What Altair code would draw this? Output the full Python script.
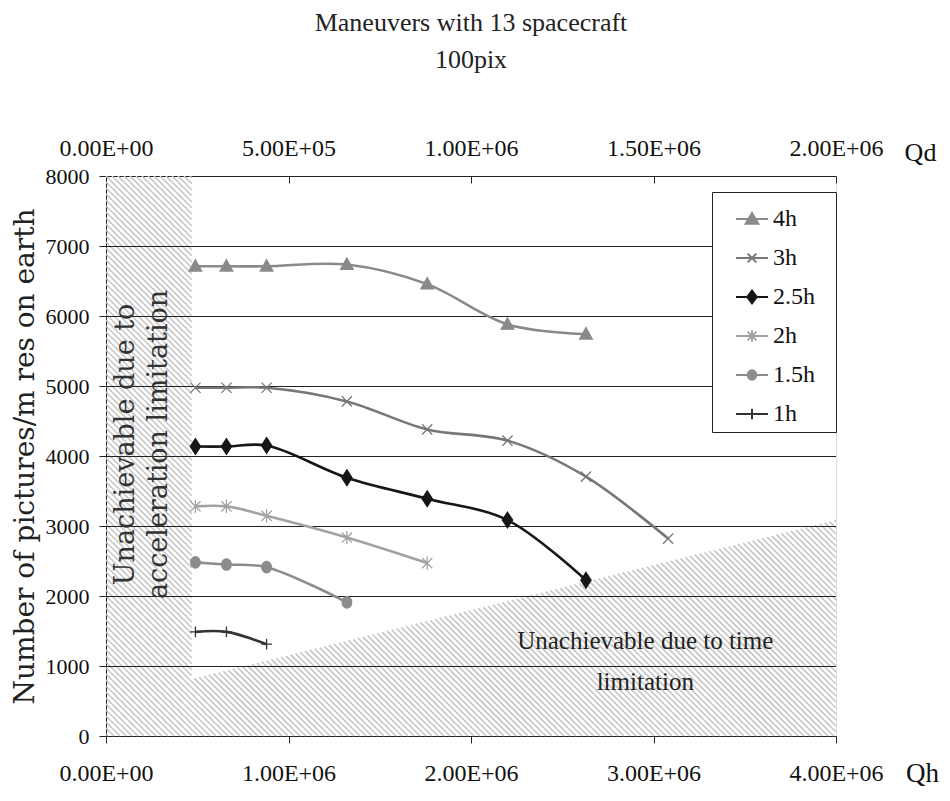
import altair as alt
import pandas as pd

# ---------------- data ----------------
series_names = ["4h", "3h", "2.5h", "2h", "1.5h", "1h"]
qh_points = [0.49e6, 0.66e6, 0.88e6, 1.32e6, 1.76e6, 2.20e6, 2.63e6, 3.08e6]
vals_4h = [6710, 6710, 6710, 6735, 6455, 5880, 5740]
vals_3h = [4975, 4975, 4975, 4780, 4380, 4220, 3705, 2820]
vals_25h = [4135, 4135, 4150, 3690, 3390, 3085, 2225]
vals_2h = [3280, 3280, 3145, 2835, 2470]
vals_15h = [2480, 2450, 2412, 1910]
vals_1h = [1488, 1488, 1312]
series_values = [vals_4h, vals_3h, vals_25h, vals_2h, vals_15h, vals_1h]

line_colors = ["#8a8a8a", "#777777", "#161616", "#a2a2a2", "#8c8c8c", "#333333"]

y_ticks = [0, 1000, 2000, 3000, 4000, 5000, 6000, 7000, 8000]
grid_values = [1000, 2000, 3000, 4000, 5000, 6000, 7000]
qh_ticks = [0, 1000000, 2000000, 3000000, 4000000]
qh_labels = ["0.00E+00", "1.00E+06", "2.00E+06", "3.00E+06", "4.00E+06"]
qd_ticks = [0, 500000, 1000000, 1500000, 2000000]
qd_labels = ["0.00E+00", "5.00E+05", "1.00E+06", "1.50E+06", "2.00E+06"]

# limitation regions (data units)
accel_limit_qh = 0.47e6
time_limit_start = (0.47e6, 813)
time_limit_end = (4.0e6, 3086)

# ---------------- layout constants ----------------
W, H = 730, 560
XMAX, YMAX = 4e6, 8000
SERIF = "Liberation Serif"
WIDE_SERIF = "DejaVu Serif"

marker_keys = [s + " marker" for s in series_names]

rows = []
for name, mk, vals in zip(series_names, marker_keys, series_values):
    for i, v in enumerate(vals):
        rows.append({"series": name, "mk": mk, "qh": qh_points[i], "value": v, "order": i})
df = pd.DataFrame(rows)

# ---------------- hatch stripes (decoration for limitation regions) ----------------
def px(x):
    return x / XMAX * W

def py(y):
    return H - y / YMAX * H

def dx(xp):
    return xp / W * XMAX

def dy(yp):
    return (H - yp) / H * YMAX

xa = px(accel_limit_qh)
ya = py(time_limit_start[1])
yb = py(time_limit_end[1])
m = (yb - ya) / (px(time_limit_end[0]) - xa)
spacing = 6.0
hatch = []
c = -W - H
while c <= H:
    x0, x1 = max(0.0, -c), min(xa, H - c)
    if x1 > x0:
        hatch.append({"x": dx(x0), "y": dy(x0 + c), "x2": dx(x1), "y2": dy(x1 + c)})
    xs = (ya - m * xa - c) / (1 - m)
    x0, x1 = max(xa, xs), min(W, H - c)
    if x1 > x0:
        hatch.append({"x": dx(x0), "y": dy(x0 + c), "x2": dx(x1), "y2": dy(x1 + c)})
    c += spacing
df_hatch = pd.DataFrame(hatch)

xscale = alt.Scale(domain=[0, XMAX], nice=False)
yscale = alt.Scale(domain=[0, YMAX], nice=False)

def lab_expr(vals, labels):
    return ("[" + ",".join("'%s'" % l for l in labels) + "][indexof(["
            + ",".join(str(v) for v in vals) + "], datum.value)]")

x_axis = alt.Axis(
    values=qh_ticks, labelExpr=lab_expr(qh_ticks, qh_labels), grid=False, labelFlush=False,
    domainColor="#222222", tickColor="#222222", tickSize=7, labelPadding=18,
    labelFont=SERIF, labelFontSize=24, labelColor="#111111",
    title="Qh", titleFont=SERIF, titleFontSize=27, titleFontWeight="normal",
    titleColor="#111111", titleX=816, titleY=45, titleAlign="center",
    titleBaseline="alphabetic")

y_axis = alt.Axis(
    values=y_ticks, format="d", grid=False, domainColor="#222222", tickColor="#222222",
    tickSize=7, labelPadding=10, labelFont=SERIF, labelFontSize=22,
    labelColor="#111111", title="Number of pictures/m res on earth",
    titleFont=WIDE_SERIF, titleFontSize=28, titleFontWeight="normal",
    titleColor="#222222", titlePadding=6)

X = lambda f: alt.X(f, scale=xscale, axis=x_axis)
Y = lambda f: alt.Y(f, scale=yscale, axis=y_axis)

hatch_layer = alt.Chart(df_hatch).mark_rule(color="#c6c6c6", strokeWidth=1.6).encode(
    x=X("x:Q"), y=Y("y:Q"), x2="x2:Q", y2="y2:Q",
)

grid_layer = alt.Chart(pd.DataFrame({"g": grid_values})).mark_rule(
    color="#222222", strokeWidth=1, yOffset=0.5
).encode(y=Y("g:Q"))

# legend symbol paths (line + marker), unit = 20 px; trailing move-to widens the entry box
leg_paths = [
    "M-0.8,0L0.8,0M0,-0.3L0.32,0.24L-0.32,0.24Z",
    "M-0.8,0L0.8,0M-0.22,-0.22L0.22,0.22M-0.22,0.22L0.22,-0.22",
    "M-0.8,0L0.8,0M0,-0.32L0.24,0L0,0.32L-0.24,0Z",
    "M-0.8,0L0.8,0M-0.22,-0.22L0.22,0.22M-0.22,0.22L0.22,-0.22M0,-0.29L0,0.29",
    "M-0.8,0L0.8,0M-0.21,0A0.21,0.24 0 1,0 0.21,0A0.21,0.24 0 1,0 -0.21,0Z",
    "M-0.8,0L0.8,0M0,-0.26L0,0.26",
]
leg_paths = [p + "M3.7,0" for p in leg_paths]

def tern(values):
    expr = "'%s'" % values[-1]
    for n, v in reversed(list(zip(series_names[:-1], values[:-1]))):
        expr = "datum.value === '%s' ? '%s' : (%s)" % (n, v, expr)
    return expr

legend = alt.Legend(
    title=None,
    orient="none",
    legendX=606,
    legendY=16,
    padding=6,
    rowPadding=6,
    symbolSize=1600,
    symbolOffset=13,
    symbolStrokeWidth=2,
    symbolType=alt.ExprRef(expr=tern(leg_paths)),
    symbolFillColor=alt.ExprRef(expr=tern(line_colors)),
    symbolStrokeColor=alt.ExprRef(expr=tern(line_colors)),
    strokeColor="#222222",
    fillColor="white",
    labelFont=SERIF,
    labelFontSize=24,
    labelColor="#111111",
    labelOffset=0,
)

line_layer = alt.Chart(df).mark_line(interpolate="catmull-rom", strokeWidth=2.6).encode(
    x=X("qh:Q"),
    y=Y("value:Q"),
    color=alt.Color("series:N", scale=alt.Scale(domain=series_names, range=line_colors), legend=legend),
    order="order:Q",
)

marker_paths = [
    "M0,-1.1L1.05,0.8L-1.05,0.8Z",
    "M-0.85,-0.85L0.85,0.85M-0.85,0.85L0.85,-0.85",
    "M0,-1.3L0.85,0L0,1.3L-0.85,0Z",
    "M-0.85,-0.85L0.85,0.85M-0.85,0.85L0.85,-0.85M0,-1.1L0,1.1",
    "M-0.8,0A0.8,0.95 0 1,0 0.8,0A0.8,0.95 0 1,0 -0.8,0Z",
    "M0,-0.9L0,0.9M-0.9,0L0.9,0",
]

point_layer = alt.Chart(df).mark_point(filled=False, size=144, strokeWidth=1.3, opacity=1).encode(
    x=X("qh:Q"),
    y=Y("value:Q"),
    shape=alt.Shape("mk:N", scale=alt.Scale(domain=marker_keys, range=marker_paths), legend=None),
    fill=alt.Fill("mk:N", scale=alt.Scale(domain=marker_keys, range=line_colors), legend=None),
    stroke=alt.Stroke("mk:N", scale=alt.Scale(domain=marker_keys, range=line_colors), legend=None),
)

time_text = alt.Chart(pd.DataFrame({
    "x": [2.955e6], "y": [1355],
    "t": [["Unachievable due to time", "limitation"]]})).mark_text(
    font=SERIF, fontSize=25, color="#222222", lineHeight=41, align="center", baseline="middle"
).encode(x=X("x:Q"), y=Y("y:Q"), text="t")

accel_text = alt.Chart(pd.DataFrame({
    "x": [0.112e6], "y": [4165],
    "t": [["Unachievable due to", "acceleration limitation"]]})).mark_text(
    font=WIDE_SERIF, fontSize=27, color="#333333", lineHeight=33, align="center",
    baseline="middle", angle=270
).encode(x=X("x:Q"), y=Y("y:Q"), text="t")

inner = alt.layer(hatch_layer, grid_layer, line_layer, point_layer, time_text, accel_text)

top_layer = alt.Chart(pd.DataFrame({"qd": [0, 2e6], "v": [0, 0]})).mark_point(opacity=0).encode(
    x=alt.X("qd:Q", scale=alt.Scale(domain=[0, 2e6], nice=False), axis=alt.Axis(
        orient="top", values=qd_ticks, labelExpr=lab_expr(qd_ticks, qd_labels), grid=False,
        labelFlush=False, domainColor="#222222", tickColor="#222222",
        tickSize=alt.ExprRef(expr="-7"), labelPadding=23,
        labelFont=SERIF, labelFontSize=24, labelColor="#111111",
        title="Qd", titleFont=SERIF, titleFontSize=26, titleFontWeight="normal",
        titleColor="#111111", titleX=814, titleY=-16, titleAlign="center",
        titleBaseline="alphabetic")),
    y=Y("v:Q"),
)

chart = alt.layer(inner, top_layer).resolve_scale(x="independent").properties(
    width=W,
    height=H,
    autosize=alt.AutoSizeParams(type="none"),
    padding={"left": 106, "top": 176, "right": 114, "bottom": 65},
    title=alt.TitleParams(
        text=["Maneuvers with 13 spacecraft", "100pix"], font=SERIF, fontSize=26,
        fontWeight="normal", color="#222222", anchor="middle", lineHeight=37, offset=63),
).configure_view(stroke="#a0a0a0").configure(background="white")

chart.save("out.html", embed_options={"renderer": "svg", "actions": False})
